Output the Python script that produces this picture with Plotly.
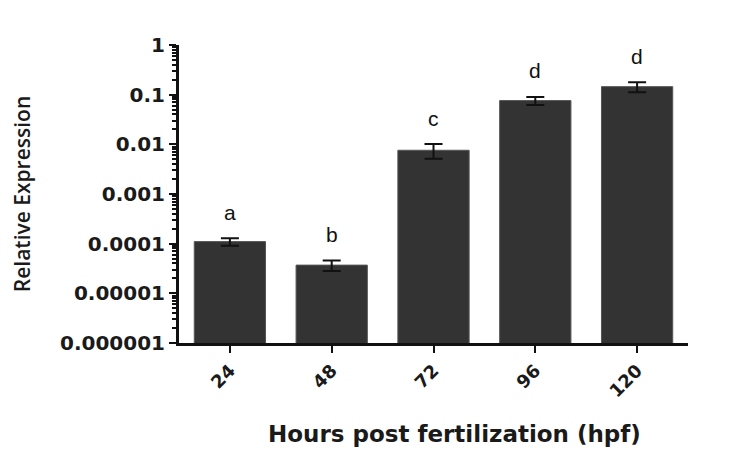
import numpy as np
import plotly.graph_objects as go

categories = ["24", "48", "72", "96", "120"]
expression = [1.1e-4, 3.7e-5, 7.6e-3, 0.076, 0.145]
error = [1.9e-5, 9e-6, 2.5e-3, 0.014, 0.033]
letters = ["a", "b", "c", "d", "d"]
ytick_vals = [1e-6, 1e-5, 1e-4, 1e-3, 1e-2, 1e-1, 1]
ytick_text = ["0.000001", "0.00001", "0.0001", "0.001", "0.01", "0.1", "1"]

fig = go.Figure()
fig.add_trace(go.Bar(
    x=categories, y=expression, width=0.7,
    marker=dict(color="#333333", line=dict(color="#555555", width=1)),
    error_y=dict(type="data", array=error, visible=True, color="#111111", thickness=2, width=9),
))

for i, (v, e, l) in enumerate(zip(expression, error, letters)):
    fig.add_annotation(x=i, y=float(np.log10(v + e)), text=l, showarrow=False,
                       xref="x", yref="y",
                       yanchor="middle", yshift=26,
                       font=dict(family="Liberation Sans, Arial", size=21, color="#111111"))

# x-axis title (slightly right of centre, as in the original)
fig.add_annotation(x=0.542, y=-0.305, xref="paper", yref="paper",
                   text="<b>Hours post fertilization (hpf)</b>", showarrow=False,
                   xanchor="center", yanchor="middle",
                   font=dict(family="DejaVu Sans", size=23, color="#1a1a1a"))

fig.update_layout(
    width=732, height=453,
    margin=dict(l=179, r=44, t=45, b=110),
    paper_bgcolor="white", plot_bgcolor="white",
    showlegend=False, bargap=0.3,
)
fig.update_xaxes(
    type="category", range=[-0.5, 4.5],
    showline=True, linecolor="#111111", linewidth=3,
    ticks="outside", ticklen=7, tickwidth=2, tickcolor="#111111",
    tickangle=-45,
    tickfont=dict(family="DejaVu Sans", size=18, color="#1a1a1a", weight="bold"),
)
fig.update_yaxes(
    type="log", range=[-6, 0],
    tickvals=ytick_vals, ticktext=ytick_text,
    showline=True, linecolor="#111111", linewidth=3, showgrid=False,
    ticks="outside", ticklen=7, tickwidth=2, tickcolor="#111111",
    minor=dict(ticks="outside", ticklen=4, tickwidth=1.5, tickcolor="#111111", dtick="D1", showgrid=False),
    tickfont=dict(family="DejaVu Sans", size=20, color="#1a1a1a", weight="bold"),
    title=dict(text="Relative Expression", standoff=24,
               font=dict(family="Open Sans", size=21, color="#1a1a1a", weight=600)),
)

fig.write_html("out.html")
